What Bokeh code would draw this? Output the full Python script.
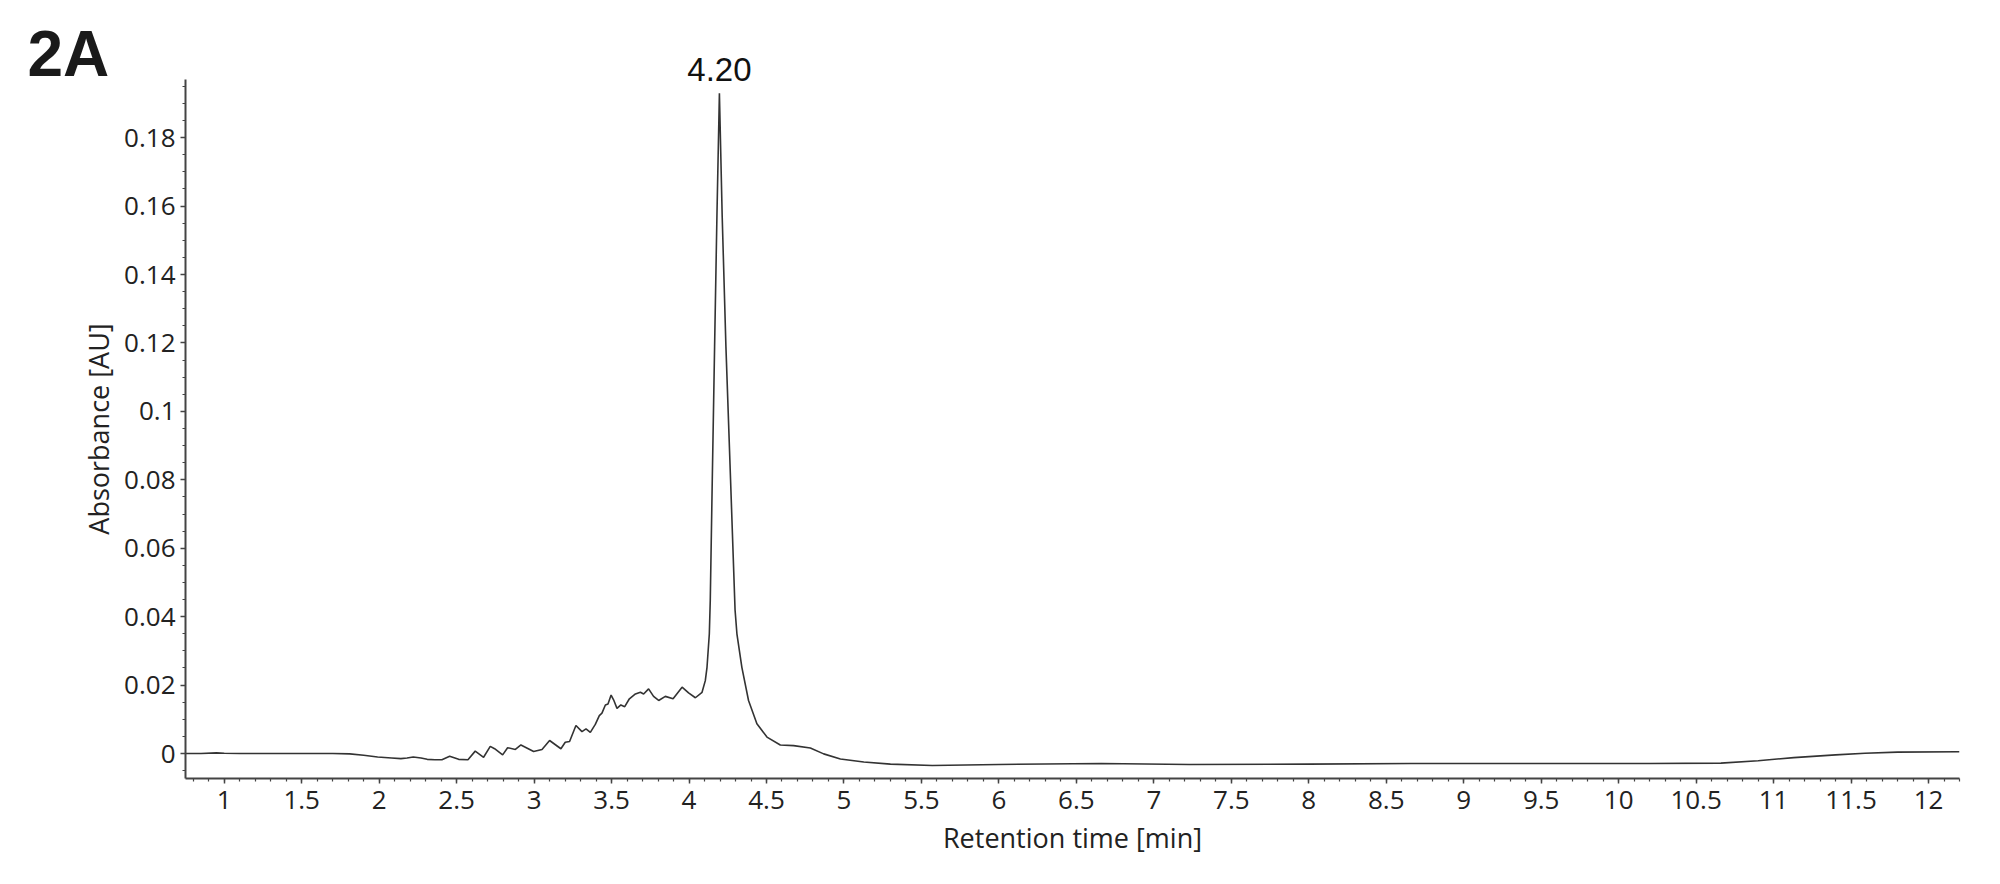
import numpy as np
from bokeh.plotting import figure
from bokeh.models import Range1d, SingleIntervalTicker, CustomJSTickFormatter, Label
from bokeh.embed import file_html
from bokeh.resources import INLINE

tick_font = "Open Sans"
tick_size = "26px"
ink = "#222222"

# chromatogram trace
time_min = [
    0.75, 0.85, 0.95, 1.00, 1.10, 1.30, 1.50, 1.70, 1.81, 1.90, 1.99, 2.08,
    2.14, 2.18, 2.22, 2.27, 2.31, 2.36, 2.405, 2.455, 2.513, 2.573, 2.620,
    2.674, 2.717, 2.745, 2.797, 2.829, 2.879, 2.915, 2.997, 3.051, 3.100,
    3.173, 3.201, 3.229, 3.270, 3.309, 3.335, 3.363, 3.395, 3.421, 3.438,
    3.460, 3.477, 3.497, 3.513, 3.535, 3.560, 3.585, 3.615, 3.654, 3.686,
    3.707, 3.739, 3.771, 3.804, 3.847, 3.897, 3.955, 3.997, 4.041, 4.084,
    4.105, 4.116, 4.131, 4.137, 4.150, 4.165, 4.180, 4.196, 4.214, 4.238,
    4.268, 4.297, 4.309, 4.341, 4.384, 4.438, 4.503, 4.589, 4.675, 4.783,
    4.869, 4.977, 5.128, 5.300, 5.57, 6.00, 6.66, 7.23, 8.00, 8.66, 9.50,
    10.20, 10.66, 10.90, 11.13, 11.40, 11.59, 11.80, 12.20,
]
absorbance_au = [
    0.0000, 0.0000, 0.0002, 0.0001, 0.0000, 0.0000, 0.0000, 0.0000, -0.0001,
    -0.0005, -0.0010, -0.0013, -0.0015, -0.0013, -0.0010, -0.0013, -0.0017,
    -0.0018, -0.0018, -0.0008, -0.0017, -0.0018, 0.0007, -0.0011, 0.0021,
    0.0014, -0.0004, 0.0017, 0.0012, 0.0025, 0.0006, 0.0012, 0.0038, 0.0014,
    0.0033, 0.0035, 0.0082, 0.0064, 0.0072, 0.0062, 0.0085, 0.0111, 0.0118,
    0.0142, 0.0145, 0.0171, 0.0157, 0.0132, 0.0142, 0.0137, 0.0160, 0.0174,
    0.0179, 0.0174, 0.0189, 0.0167, 0.0155, 0.0167, 0.0160, 0.0194, 0.0177,
    0.0163, 0.0179, 0.0213, 0.0252, 0.0350, 0.0447, 0.0800, 0.1190, 0.1570,
    0.1930, 0.1570, 0.1190, 0.0800, 0.0420, 0.0350, 0.0252, 0.0155, 0.0087,
    0.0048, 0.0025, 0.0023, 0.0016, -0.0001, -0.0016, -0.0025, -0.0031,
    -0.0035, -0.0032, -0.0029, -0.0032, -0.0031, -0.0029, -0.0029, -0.0029,
    -0.0028, -0.0021, -0.0012, -0.0004, 0.0001, 0.0004, 0.0005,
]

panel_label = "2A"
x_start, x_end = 0.75, 12.2
y_start, y_end = -0.0073, 0.197

p = figure(width=1990, height=876, output_backend="svg", toolbar_location=None,
           x_range=Range1d(x_start, x_end), y_range=Range1d(y_start, y_end),
           x_axis_label="Retention time [min]", y_axis_label="Absorbance [AU]",
           min_border_left=185, min_border_right=31, min_border_top=79, min_border_bottom=98)
p.grid.visible = False
p.outline_line_color = None
p.background_fill_color = "white"

p.line(time_min, absorbance_au, line_color="#333333", line_width=1.6)

p.xaxis.ticker = SingleIntervalTicker(interval=0.5, num_minor_ticks=5)
p.yaxis.ticker = SingleIntervalTicker(interval=0.02, num_minor_ticks=4)
fmt = "return Number(tick.toFixed(4)).toString();"
p.xaxis.formatter = CustomJSTickFormatter(code=fmt)
p.yaxis.formatter = CustomJSTickFormatter(code=fmt)

for axis in [p.xaxis, p.yaxis]:
    axis.axis_line_color = "#444444"
    axis.axis_line_width = 2
    axis.major_tick_line_color = "#444444"
    axis.minor_tick_line_color = "#444444"
    axis.major_tick_line_width = 1.5
    axis.minor_tick_line_width = 1.2
    axis.major_tick_in = 0
    axis.major_tick_out = 5
    axis.minor_tick_in = 0
    axis.minor_tick_out = 3
    axis.major_label_text_font = tick_font
    axis.major_label_text_font_size = tick_size
    axis.major_label_text_color = ink
    axis.axis_label_text_font = tick_font
    axis.axis_label_text_font_size = "27px"
    axis.axis_label_text_font_style = "normal"
    axis.axis_label_text_color = ink

p.xaxis.major_label_standoff = 7
p.xaxis.axis_label_standoff = 7
p.yaxis.major_label_standoff = 5
p.yaxis.axis_label_standoff = 4

# peak annotation, kept in a side panel so it is not clipped by the frame
i_peak = int(np.argmax(absorbance_au))
peak_label = Label(x=time_min[i_peak], y=absorbance_au[i_peak], text=f"{time_min[i_peak]:.2f}",
                   text_align="center", text_baseline="alphabetic", y_offset=24,
                   text_font="Liberation Sans", text_font_size="33px", text_color="#111111")
p.add_layout(peak_label, "left")

# panel letter top-left
p.add_layout(Label(x=x_start, y=y_end, x_offset=-158, y_offset=26, text=panel_label,
                   text_align="left", text_baseline="alphabetic",
                   text_font="Liberation Sans", text_font_style="bold",
                   text_font_size="64px", text_color="#1a1a1a"), "above")

open("out.html", "w").write(file_html(p, INLINE))
